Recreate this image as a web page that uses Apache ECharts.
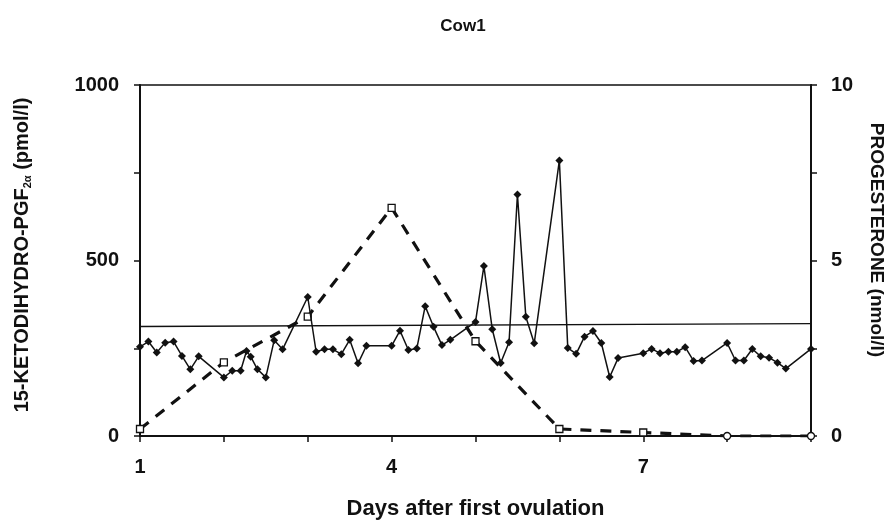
<!DOCTYPE html>
<html>
<head>
<meta charset="utf-8">
<script src="https://cdn.jsdelivr.net/npm/echarts@6/dist/echarts.min.js"></script>
<style>
  html, body { margin: 0; padding: 0; background: #fff; }
  #chart { width: 890px; height: 525px; }
</style>
</head>
<body>
<div id="chart"></div>
<script>
// 15-ketodihydro-PGF2a, pmol/l (left axis)
var pgfmDays = [1.0, 1.1, 1.2, 1.3, 1.4, 1.5, 1.6, 1.7, 2.0, 2.1, 2.2, 2.27, 2.32, 2.4, 2.5, 2.6, 2.7,
  3.0, 3.1, 3.2, 3.3, 3.4, 3.5, 3.6, 3.7, 4.0, 4.1, 4.2, 4.3, 4.4, 4.5, 4.6, 4.7,
  5.0, 5.1, 5.2, 5.3, 5.4, 5.5, 5.6, 5.7, 6.0, 6.1, 6.2, 6.3, 6.4, 6.5, 6.6, 6.7,
  7.0, 7.1, 7.2, 7.3, 7.4, 7.5, 7.6, 7.7, 8.0, 8.1, 8.2, 8.3, 8.4, 8.5, 8.6, 8.7, 9.0];
var pgfmValues = [254, 269, 238, 266, 269, 228, 190, 227, 167, 186, 186, 242, 226, 190, 167, 273, 247,
  396, 240, 247, 247, 233, 274, 207, 257, 257, 300, 245, 249, 370, 311, 259, 274,
  325, 484, 304, 208, 267, 688, 340, 264, 785, 251, 234, 283, 299, 265, 168, 222,
  236, 248, 236, 240, 240, 253, 214, 215, 265, 215, 215, 248, 227, 223, 209, 192, 248];

// progesterone, nmol/l (right axis)
var progDays = [1, 2, 3, 4, 5, 6, 7, 8, 9];
var progValues = [0.2, 2.1, 3.4, 6.5, 2.7, 0.2, 0.1, 0, 0];

// threshold line (left axis)
var baselineDays = [1, 9];
var baselineValues = [312, 320];

var leftTicks = [0, 500, 1000];
var rightTicks = [0, 5, 10];
var dayTicks = [1, 4, 7];

var font = 'Liberation Sans, Arial, sans-serif';
var ink = '#111';

var chart = echarts.init(document.getElementById('chart'));

chart.setOption({
  animation: false,
  backgroundColor: '#fff',
  title: {
    text: 'Cow1',
    left: 458,
    top: 13,
    textAlign: 'center',
    textStyle: { fontFamily: font, fontWeight: 'bold', fontSize: 17, color: ink }
  },
  graphic: [{
    type: 'text',
    x: 22, y: 255,
    rotation: Math.PI / 2,
    style: {
      text: '15-KETODIHYDRO-PGF{sub|2α} (pmol/l)',
      align: 'center', verticalAlign: 'middle',
      fontFamily: font, fontWeight: 'bold', fontSize: 20, fill: ink, lineHeight: 22,
      rich: {
        sub: { fontFamily: font, fontWeight: 'bold', fontSize: 11, fill: ink, lineHeight: 6, verticalAlign: 'bottom' }
      }
    }
  }, {
    type: 'text',
    x: 876, y: 240,
    rotation: -Math.PI / 2,
    style: {
      text: 'PROGESTERONE (nmol/l)',
      align: 'center', verticalAlign: 'middle',
      fontFamily: font, fontWeight: 'bold', fontSize: 19, fill: ink
    }
  }],
  grid: {
    left: 140, right: 79, top: 85, bottom: 88,
    show: true, borderColor: ink, borderWidth: 1.5, backgroundColor: 'transparent'
  },
  xAxis: {
    type: 'value',
    min: 1, max: 9, interval: 1,
    name: 'Days after first ovulation',
    nameLocation: 'middle',
    nameGap: 62,
    nameTextStyle: { fontFamily: font, fontWeight: 'bold', fontSize: 22, color: ink },
    axisLine: { lineStyle: { color: ink, width: 2 } },
    axisTick: { show: true, inside: false, length: 6, lineStyle: { color: ink, width: 1.5 } },
    splitLine: { show: false },
    axisLabel: {
      margin: 21,
      fontFamily: font, fontWeight: 'bold', fontSize: 20, color: ink,
      formatter: function (v) { return dayTicks.indexOf(v) >= 0 ? String(v) : ''; }
    }
  },
  yAxis: [{
    type: 'value',
    position: 'left',
    min: 0, max: 1000, interval: 250,
    axisLine: { show: true, lineStyle: { color: ink, width: 2 } },
    axisTick: { show: true, inside: false, length: 6, lineStyle: { color: ink, width: 1.5 } },
    splitLine: { show: false },
    axisLabel: {
      margin: 21,
      fontFamily: font, fontWeight: 'bold', fontSize: 20, color: ink,
      formatter: function (v) { return leftTicks.indexOf(v) >= 0 ? String(v) : ''; }
    }
  }, {
    type: 'value',
    position: 'right',
    min: 0, max: 10, interval: 2.5,
    axisLine: { show: true, lineStyle: { color: ink, width: 2 } },
    axisTick: { show: true, inside: false, length: 6, lineStyle: { color: ink, width: 1.5 } },
    splitLine: { show: false },
    axisLabel: {
      margin: 20,
      fontFamily: font, fontWeight: 'bold', fontSize: 20, color: ink,
      formatter: function (v) { return rightTicks.indexOf(v) >= 0 ? String(v) : ''; }
    }
  }],
  series: [{
    name: 'threshold',
    type: 'line',
    yAxisIndex: 0,
    data: baselineDays.map(function (d, i) { return [d, baselineValues[i]]; }),
    symbol: 'none',
    lineStyle: { color: ink, width: 1.3 },
    z: 1
  }, {
    name: 'Progesterone',
    type: 'line',
    yAxisIndex: 1,
    data: progDays.map(function (d, i) {
      return { value: [d, progValues[i]], symbol: progValues[i] === 0 ? 'circle' : 'rect' };
    }),
    symbolSize: 7,
    itemStyle: { color: '#fff', borderColor: ink, borderWidth: 1.3 },
    lineStyle: { color: ink, width: 3.2, type: [11, 9] },
    z: 2
  }, {
    name: 'PGFM',
    type: 'line',
    yAxisIndex: 0,
    data: pgfmDays.map(function (d, i) { return [d, pgfmValues[i]]; }),
    symbol: 'diamond',
    symbolSize: 8,
    itemStyle: { color: ink },
    lineStyle: { color: ink, width: 1.5 },
    z: 3
  }]
});
</script>
</body>
</html>
